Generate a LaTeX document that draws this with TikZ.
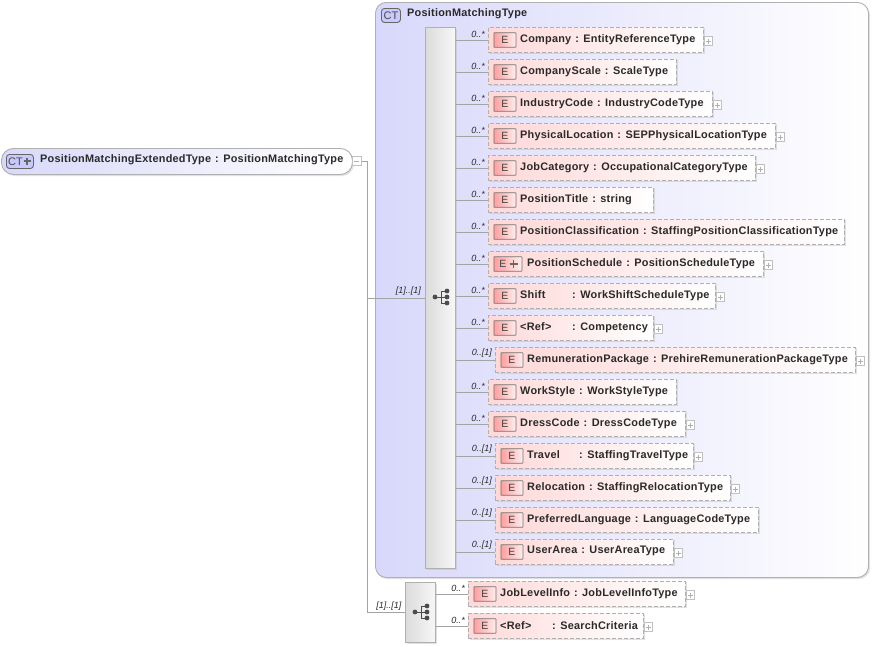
\documentclass[tikz,border=0pt]{standalone}
\usepackage{fontspec}
\setmainfont{Liberation Sans}
\usetikzlibrary{calc}
\definecolor{txt}{HTML}{2A2A2A}
\definecolor{lav}{HTML}{D8D8FB}
\definecolor{rosa}{HTML}{FFD8D8}
\definecolor{edge}{HTML}{B0B0B0}
\definecolor{linec}{HTML}{A4A4A4}
\newfontfamily\lblfont[LetterSpace=2.2]{Liberation Sans}
\tikzset{
 x=1pt,y=-1pt,
 ebox/.style={draw=edge,dash pattern=on 4pt off 2pt,line width=.9pt,left color=rosa,right color=white,anchor=west,minimum height=25.5pt,inner sep=0pt,outer sep=0pt},
 etext/.style={anchor=west,inner sep=0pt,font=\lblfont\bfseries\fontsize{10.9}{12}\selectfont,text=txt},
 eicon/.style={draw=black!55,line width=.8pt,left color=red!38!white,right color=rosa!45!white,anchor=west,minimum height=14.5pt,inner sep=0pt,font=\fontsize{10.5}{12}\selectfont,text=black!75,rounded corners=.5pt},
 card/.style={anchor=south east,inner sep=0pt,font=\itshape\fontsize{9}{10}\selectfont,text=txt},
 conn/.style={draw=linec,line width=.8pt},
 plusbox/.style={draw=edge!80,fill=white,minimum size=8.5pt,inner sep=0pt,line width=.6pt,anchor=west},
 seqbar/.style={draw=edge,line width=.9pt,left color=black!14,right color=black!3,inner sep=0pt,anchor=north west},
 shade/.style={fill=black!30,opacity=.38,draw=none},
 cticon/.style={draw=black!60,line width=.9pt,fill=lav!85!blue!75!white,rounded corners=3pt,inner sep=0pt,font=\fontsize{11}{12}\selectfont,text=black!70,anchor=north west},
}
\newcommand{\elembase}[7]{%
 \fill[shade] (#2+1.5,#4-11) rectangle (#3+2,#4+15);
 \node[ebox,minimum width=#3-#2] (#1) at (#2,#4+1) {};
 \node[eicon,minimum width=#6] (#1i) at (#2+5.5,#4+1) {#7};
}
\newcommand{\pluslines}[1]{%
 \draw[edge,line width=.6pt] ($(#1.center)+(-2.5,0)$) -- ($(#1.center)+(2.5,0)$) ($(#1.center)+(0,-2.5)$) -- ($(#1.center)+(0,2.5)$);
}
\newcommand{\seqdot}[2]{\fill[black!70] (#1,#2) circle (2.4pt);}
\newcommand{\seqicon}[2]{%
 \draw[black!70,line width=.9pt] (#1-6,#2) -- (#1,#2) (#1+6,#2-6) -| (#1,#2+6) -- (#1+6,#2+6) (#1,#2) -- (#1+6,#2);
 \seqdot{#1-6}{#2}\seqdot{#1+6}{#2-6}\seqdot{#1+6}{#2}\seqdot{#1+6}{#2+6}%
}
\newcommand{\elem}[8]{% id,left,right,y,text,card,bar,iconwidth
 \elembase{#1}{#2}{#3}{#4}{#5}{#8}{E}
 \node[etext] at (#2+32,#4+.3) {#5};
 \draw[conn] (#7.east |- #1.west) -- (#1.west);
 \node[card] at (#2-3,#4-1) {#6};
}
\newcommand{\sep}{\hspace{4pt}:\hspace{4.5pt}}
\newcommand{\addplus}[1]{%
 \node[plusbox] (#1p) at ($(#1.east)+(0.5,1)$) {};
 \pluslines{#1p}
}
\begin{document}
\begin{tikzpicture}
\useasboundingbox (0,0) rectangle (873,646);
\fill[white] (0,0) rectangle (873,646);
\coordinate (trunk) at (367,161);
% container
\fill[shade,rounded corners=11pt] (376,4) rectangle (870,579);
\node[draw=edge,left color=lav,right color=white,rounded corners=11pt,minimum width=493pt,minimum height=575pt,inner sep=0pt,anchor=north west,line width=.9pt] (ctbox) at (375,2) {};
\node[cticon,minimum width=19pt,minimum height=14pt] (cti) at (381,8) {CT};
\node[etext,anchor=west] (ctname) at (407,14) {PositionMatchingType};
% sequences
\fill[shade] (427,29) rectangle (457,570);
\node[seqbar,minimum width=30pt,minimum height=541pt] (seqa) at (425,27) {};
\fill[shade] (407,584) rectangle (437,644);
\node[seqbar,minimum width=30pt,minimum height=60pt] (seqb) at (405,582) {};
\seqicon{441}{297}
\seqicon{421}{612}
% root
\fill[shade,rounded corners=12pt] (3,150) rectangle (354,176);
\node[draw=edge,left color=lav,right color=white,rounded corners=12pt,minimum width=351pt,minimum height=26pt,inner sep=0pt,anchor=north west,line width=.9pt] (root) at (1,148) {};
\node[cticon,minimum width=27pt,minimum height=14pt] (rooti) at (6,154) {CT\kern9pt};
\draw[black!60,line width=1.8pt] (23.5,161) -- (31,161) (27.25,157.5) -- (27.25,164.5);
\node[etext] (rootname) at (40,160) {PositionMatchingExtendedType\sep PositionMatchingType};
\node[plusbox,minimum size=9pt] (rootp) at (352,161) {};
\draw[edge,line width=.6pt] (rootp.center) +(-2.5,0) -- +(2.5,0);
% trunk connectors
\draw[conn] (rootp.east) -- (trunk |- rootp.east) -- (trunk |- seqb.west) -- (seqb.west);
\draw[conn] (trunk |- seqa.west) -- (seqa.west);
\node[card] at (421,296) {[1]..[1]};
\node[card] at (401.5,611) {[1]..[1]};
% elements
\elem{e1}{488}{703}{39}{Company\sep EntityReferenceType}{0..*}{seqa}{22pt}\addplus{e1}
\elem{e2}{488}{676}{71}{CompanyScale\sep ScaleType}{0..*}{seqa}{22pt}
\elem{e3}{488}{712}{103}{IndustryCode\sep IndustryCodeType}{0..*}{seqa}{22pt}\addplus{e3}
\elem{e4}{488}{775}{135}{PhysicalLocation\sep SEPPhysicalLocationType}{0..*}{seqa}{22pt}\addplus{e4}
\elem{e5}{488}{755}{167}{JobCategory\sep OccupationalCategoryType}{0..*}{seqa}{22pt}\addplus{e5}
\elem{e6}{488}{653}{199}{PositionTitle\sep string}{0..*}{seqa}{22pt}
\elem{e7}{488}{844}{231}{PositionClassification\sep StaffingPositionClassificationType}{0..*}{seqa}{22pt}
\elembase{e8}{488}{763}{263}{}{28pt}{E\kern10pt}
\draw[black!60,line width=1.8pt] (509.5,264) -- (517.5,264) (513.5,260) -- (513.5,268);
\node[etext] at (527,263.3) {PositionSchedule\sep PositionScheduleType};
\draw[conn] (seqa.east |- e8.west) -- (e8.west);
\node[card] at (485,262) {0..*};
\addplus{e8}
\elem{e9}{488}{715}{295}{\makebox[52pt][l]{Shift}:\hspace{4.5pt}WorkShiftScheduleType}{0..*}{seqa}{22pt}\addplus{e9}
\elem{e10}{488}{653}{327}{\makebox[52pt][l]{<Ref>}:\hspace{4.5pt}Competency}{0..*}{seqa}{22pt}\addplus{e10}
\elem{e11}{495}{855}{359}{RemunerationPackage\sep PrehireRemunerationPackageType}{0..[1]}{seqa}{22pt}\addplus{e11}
\elem{e12}{488}{676}{391}{WorkStyle\sep WorkStyleType}{0..*}{seqa}{22pt}
\elem{e13}{488}{685}{423}{DressCode\sep DressCodeType}{0..*}{seqa}{22pt}\addplus{e13}
\elem{e14}{495}{693}{455}{\makebox[52pt][l]{Travel}:\hspace{4.5pt}StaffingTravelType}{0..[1]}{seqa}{22pt}\addplus{e14}
\elem{e15}{495}{730}{487}{Relocation\sep StaffingRelocationType}{0..[1]}{seqa}{22pt}\addplus{e15}
\elem{e16}{495}{758}{519}{PreferredLanguage\sep LanguageCodeType}{0..[1]}{seqa}{22pt}
\elem{e17}{495}{673}{551}{UserArea\sep UserAreaType}{0..[1]}{seqa}{22pt}\addplus{e17}
\elem{f1}{468}{685}{593}{JobLevelInfo\sep JobLevelInfoType}{0..*}{seqb}{22pt}\addplus{f1}
\elem{f2}{468}{643}{625}{\makebox[52pt][l]{<Ref>}:\hspace{4.5pt}SearchCriteria}{0..*}{seqb}{22pt}\addplus{f2}
\end{tikzpicture}
\end{document}
